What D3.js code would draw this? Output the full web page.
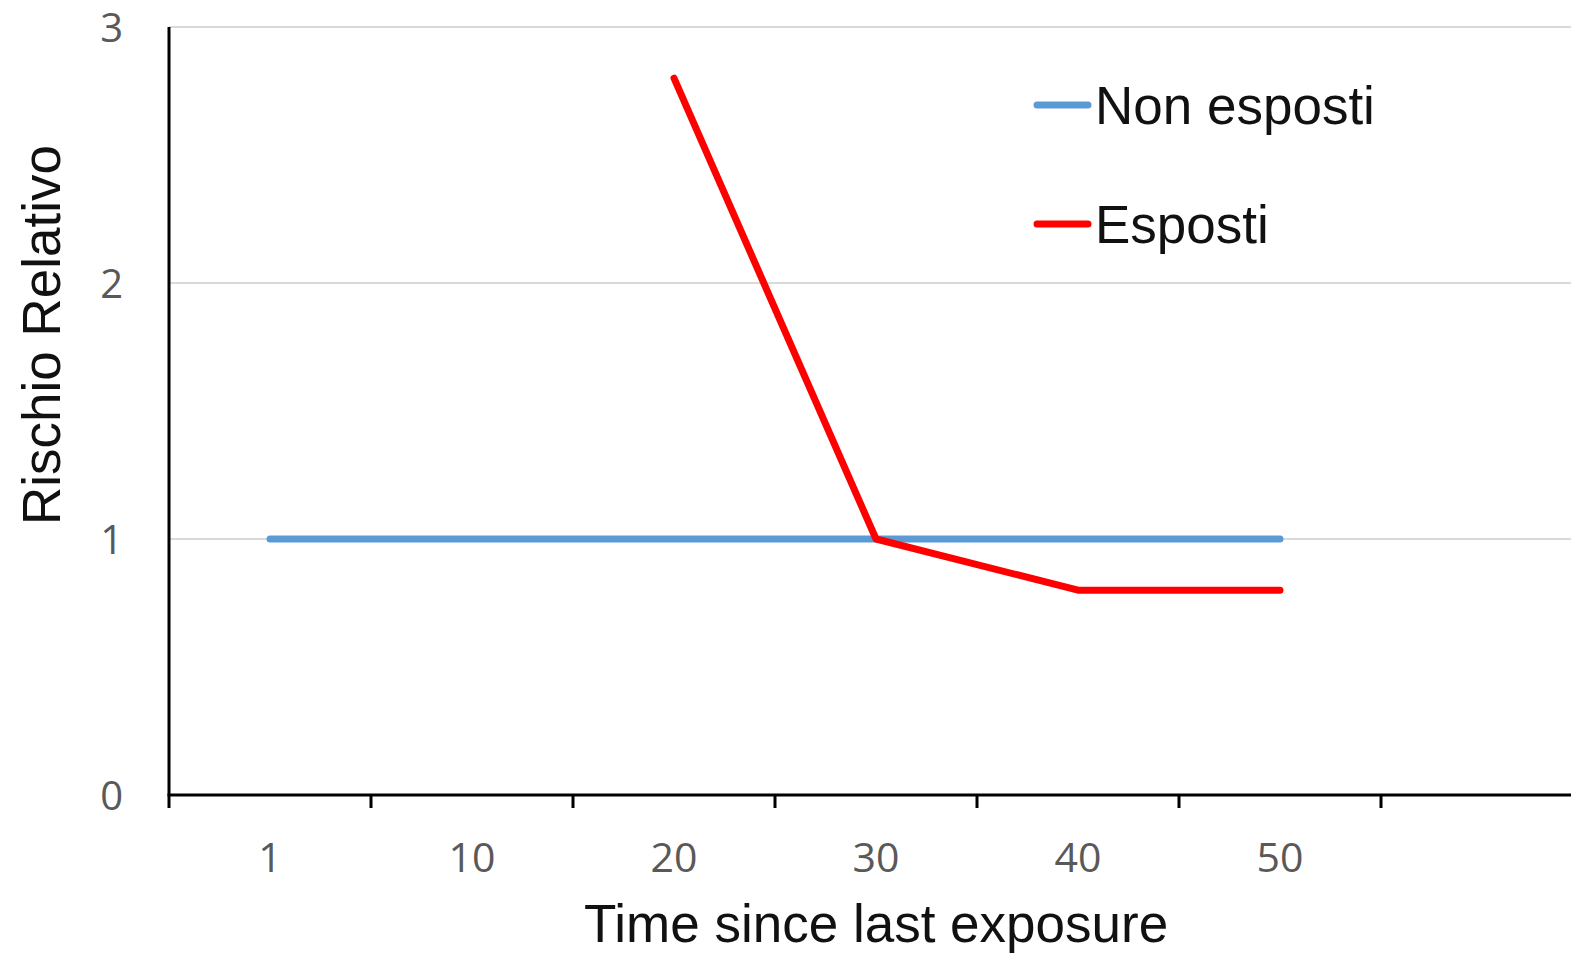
<!DOCTYPE html>
<html>
<head>
<meta charset="utf-8">
<script src="https://cdn.jsdelivr.net/npm/d3@7"></script>
<style>
  body { margin: 0; background: #fff; }
  svg { display: block; }
</style>
</head>
<body>
<div id="chart"></div>
<script>
// categorie asse x (l'ultima e' vuota, come nel grafico originale)
const categorie = ["1", "10", "20", "30", "40", "50", ""];
const nonEsposti = [1, 1, 1, 1, 1, 1];
const esposti = [null, null, 2.8, 1, 0.8, 0.8];
const yTicks = [0, 1, 2, 3];
const serie = [
  { nome: "Non esposti", valori: nonEsposti, colore: "#5b9bd5" },
  { nome: "Esposti", valori: esposti, colore: "#ff0000" }
];

const W = 1571, H = 956;
const m = { left: 169, top: 27, bottom: 161 };
const plotW = 202 * categorie.length;

const svg = d3.select("#chart").append("svg").attr("width", W).attr("height", H);

const x = d3.scaleBand().domain(categorie).range([m.left, m.left + plotW]);
const y = d3.scaleLinear().domain([0, 3]).range([H - m.bottom, m.top]);

// griglia
svg.append("g").selectAll("line").data(yTicks.filter(d => d > 0)).join("line")
  .attr("x1", m.left).attr("x2", W)
  .attr("y1", d => y(d)).attr("y2", d => y(d))
  .attr("stroke", "#d9d9d9").attr("stroke-width", 2);

// etichette asse y
svg.append("g").selectAll("text").data(yTicks).join("text")
  .attr("x", 123).attr("y", d => y(d)).attr("dy", 15)
  .attr("text-anchor", "end")
  .attr("font-family", "'Open Sans', sans-serif").attr("font-size", 40)
  .attr("fill", "#595959")
  .text(d => d);

// asse x: etichette al centro delle categorie
const xAxis = svg.append("g").attr("transform", `translate(0,${y(0)})`)
  .call(d3.axisBottom(x).tickSize(0).tickPadding(48));
xAxis.select(".domain").remove();
xAxis.selectAll("text")
  .attr("font-family", "'Open Sans', sans-serif").attr("font-size", 41)
  .attr("fill", "#595959");

// tacche tra le categorie
const bordi = categorie.map(c => x(c));
svg.append("g").selectAll("line").data(bordi).join("line")
  .attr("x1", d => d).attr("x2", d => d)
  .attr("y1", y(0)).attr("y2", y(0) + 13)
  .attr("stroke", "#000").attr("stroke-width", 3);

// linee degli assi
svg.append("line").attr("x1", m.left - 1.5).attr("x2", W)
  .attr("y1", y(0)).attr("y2", y(0)).attr("stroke", "#000").attr("stroke-width", 3);
svg.append("line").attr("x1", m.left).attr("x2", m.left)
  .attr("y1", y(3)).attr("y2", y(0)).attr("stroke", "#000").attr("stroke-width", 3);

// serie
const linea = d3.line()
  .defined(d => d.v != null)
  .x(d => x(d.c) + x.bandwidth() / 2)
  .y(d => y(d.v));

serie.forEach(s => {
  const punti = s.valori.map((v, i) => ({ c: categorie[i], v: v }));
  svg.append("path").datum(punti)
    .attr("d", linea)
    .attr("fill", "none")
    .attr("stroke", s.colore).attr("stroke-width", 7)
    .attr("stroke-linecap", "round").attr("stroke-linejoin", "round");
});

// legenda
const leg = svg.append("g").selectAll("g").data(serie).join("g")
  .attr("transform", (d, i) => `translate(1037,${105 + i * 119})`);
leg.append("line").attr("x1", 0).attr("x2", 51)
  .attr("stroke", d => d.colore).attr("stroke-width", 7).attr("stroke-linecap", "round");
leg.append("text").attr("x", 58).attr("dy", "0.36em")
  .attr("font-family", "'Liberation Sans', Arial, sans-serif").attr("font-size", 53)
  .attr("fill", "#111")
  .text(d => d.nome);

// titoli assi
svg.append("text").attr("x", 876).attr("y", 942).attr("text-anchor", "middle")
  .attr("font-family", "'Liberation Sans', Arial, sans-serif").attr("font-size", 53)
  .attr("fill", "#111").text("Time since last exposure");
svg.append("text")
  .attr("transform", "translate(60,335) rotate(-90)")
  .attr("text-anchor", "middle")
  .attr("font-family", "'Liberation Sans', Arial, sans-serif").attr("font-size", 53)
  .attr("fill", "#111").text("Rischio Relativo");
</script>
</body>
</html>
